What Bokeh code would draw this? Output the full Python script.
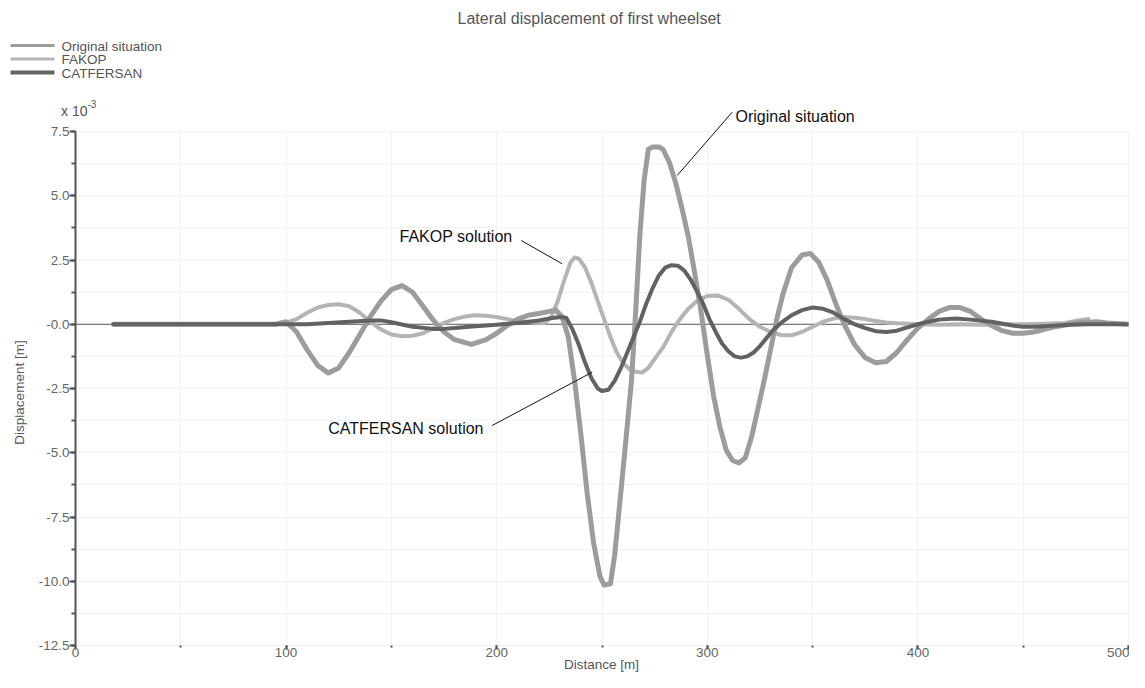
import math
from bokeh.plotting import figure
from bokeh.models import Range1d, FixedTicker, Label, Arrow, LinearAxis, Grid
from bokeh.embed import file_html
from bokeh.resources import INLINE

# ---------------- data (displacement in units of 10^-3 m) ----------------
title_text = "Lateral displacement of first wheelset"
series_names = ["Original situation", "FAKOP", "CATFERSAN"]
x_label = "Distance [m]"
y_label = "Displacement [m]"
x_ticks = [0, 100, 200, 300, 400, 500]
x_minor = [0, 50, 100, 150, 200, 250, 300, 350, 400, 450, 500]
y_ticks = [-12.5, -10.0, -7.5, -5.0, -2.5, 0.0, 2.5, 5.0, 7.5]
y_tick_labels = ["-12.5", "-10.0", "-7.5", "-5.0", "-2.5", "-0.0", "2.5", "5.0", "7.5"]
y_minor = [-12.5, -11.25, -10.0, -8.75, -7.5, -6.25, -5.0, -3.75, -2.5, -1.25, 0.0,
           1.25, 2.5, 3.75, 5.0, 6.25, 7.5]

orig_x = [18, 60, 95, 100, 105, 110, 115, 120, 125, 130, 135, 140, 145, 150, 155, 160,
          165, 170, 175, 180, 188, 195, 200, 205, 210, 215, 220, 225, 228, 231, 234, 237,
          240, 243, 246, 249, 251, 254, 256, 259, 261, 264, 266, 268, 270, 272, 274, 277,
          279, 282, 285, 288, 291, 294, 297, 300, 303, 306, 309, 312, 315, 318, 321, 324,
          327, 330, 333, 336, 340, 345, 349, 353, 357, 361, 365, 370, 375, 380, 385, 390,
          395, 400, 405, 410, 415, 420, 425, 430, 435, 440, 445, 450, 455, 460, 465, 470,
          475, 485, 490, 500]
orig_y = [0.0, 0.0, 0.0, 0.1, -0.3, -1.0, -1.6, -1.9, -1.7, -1.1, -0.4, 0.3, 0.9, 1.35, 1.5, 1.25,
          0.7, 0.15, -0.3, -0.6, -0.78, -0.6, -0.35, -0.05, 0.2, 0.35, 0.42, 0.5, 0.55, 0.3, -0.5, -2.2,
          -4.3, -6.6, -8.5, -9.8, -10.15, -10.1, -9.0, -6.5, -4.8, -2.2, 0.5, 3.5, 5.6, 6.8, 6.9, 6.9,
          6.8, 6.3, 5.5, 4.5, 3.4, 2.0, 0.5, -1.2, -2.8, -4.0, -4.9, -5.3, -5.4, -5.2, -4.4, -3.3,
          -2.2, -1.0, 0.2, 1.2, 2.2, 2.7, 2.75, 2.4, 1.7, 0.8, 0.0, -0.8, -1.3, -1.5, -1.45, -1.1,
          -0.6, -0.15, 0.2, 0.5, 0.65, 0.65, 0.5, 0.2, -0.05, -0.25, -0.35, -0.35, -0.3, -0.2, -0.1, -0.03,
          0.05, 0.1, 0.05, 0.0]

fakop_x = [18, 95, 100, 105, 110, 115, 120, 125, 130, 135, 140, 145, 150, 155, 160, 165,
           170, 175, 180, 185, 190, 195, 200, 205, 210, 215, 220, 223, 226, 229, 232, 235,
           237, 239, 242, 245, 248, 251, 254, 257, 260, 263, 266, 269, 272, 275, 279, 283,
           287, 291, 295, 300, 305, 310, 315, 320, 325, 330, 335, 340, 345, 350, 355, 360,
           365, 370, 375, 380, 385, 390, 400, 410, 420, 430, 440, 450, 460, 470, 476, 481]
fakop_y = [0.0, 0.0, 0.05, 0.2, 0.45, 0.65, 0.75, 0.78, 0.7, 0.45, 0.1, -0.2, -0.4, -0.47, -0.45, -0.35,
           -0.15, 0.05, 0.2, 0.3, 0.35, 0.33, 0.28, 0.2, 0.12, 0.1, 0.05, 0.05, 0.3, 0.9, 1.7, 2.4,
           2.6, 2.55, 2.2, 1.6, 0.9, 0.2, -0.5, -1.1, -1.5, -1.75, -1.85, -1.88, -1.7, -1.35, -0.9, -0.3,
           0.2, 0.6, 0.9, 1.1, 1.12, 0.95, 0.6, 0.2, -0.1, -0.3, -0.42, -0.43, -0.3, -0.1, 0.1, 0.22,
           0.28, 0.25, 0.2, 0.13, 0.07, 0.04, 0.0, -0.02, 0.0, -0.02, 0.0, 0.0, 0.02, 0.05, 0.15, 0.2]

catf_x = [18, 100, 110, 120, 130, 140, 145, 150, 160, 170, 175, 180, 190, 200, 210, 215,
          220, 225, 230, 233, 236, 239, 242, 245, 248, 250, 253, 256, 259, 262, 265, 268,
          271, 274, 277, 280, 283, 286, 289, 292, 295, 298, 301, 304, 307, 310, 313, 316,
          319, 322, 325, 328, 331, 335, 340, 345, 350, 355, 360, 365, 370, 375, 380, 385,
          390, 395, 400, 405, 410, 418, 425, 435, 445, 450, 455, 460, 470, 480, 490, 499]
catf_y = [0.0, 0.0, 0.0, 0.05, 0.1, 0.15, 0.15, 0.08, -0.1, -0.18, -0.18, -0.15, -0.08, -0.02, 0.05, 0.1,
          0.15, 0.22, 0.28, 0.25, -0.2, -0.8, -1.5, -2.1, -2.5, -2.6, -2.55, -2.2, -1.7, -1.1, -0.5, 0.1,
          0.8, 1.4, 1.9, 2.2, 2.3, 2.28, 2.1, 1.75, 1.3, 0.8, 0.2, -0.3, -0.75, -1.05, -1.25, -1.3,
          -1.25, -1.1, -0.85, -0.55, -0.25, 0.05, 0.35, 0.55, 0.65, 0.6, 0.45, 0.2, 0.0, -0.15, -0.27, -0.3,
          -0.25, -0.12, 0.0, 0.1, 0.18, 0.22, 0.18, 0.1, -0.05, -0.1, -0.1, -0.08, -0.03, 0.0, 0.0, 0.0]

# ---------------- layout / styles ----------------
W, H = 1129, 672
AX_LEFT, AX_RIGHT, AX_TOP, AX_BOTTOM = 75.0, 1128.0, 131.0, 645.0   # pixel box of the axes area
FONT = "Liberation Sans"
C_ORIG = "#9c9c9c"
C_FAKOP = "#b4b4b4"
C_CATF = "#626262"
C_AXIS = "#555555"
C_TEXT = "#555555"
C_GRID = "#f2f2f2"

x0, x1 = x_ticks[0], x_ticks[-1]
y0, y1 = y_ticks[0], y_ticks[-1]
kx = (AX_RIGHT - AX_LEFT) / (x1 - x0)
ky = (AX_BOTTOM - AX_TOP) / (y1 - y0)
xr = Range1d(x0 - AX_LEFT / kx, x0 + (W - AX_LEFT) / kx)
yr = Range1d(y1 - (H - AX_TOP) / ky, y1 + AX_TOP / ky)

p = figure(width=W, height=H, title=None, x_range=xr, y_range=yr,
           x_axis_type=None, y_axis_type=None, min_border=0,
           output_backend="svg", toolbar_location=None)
p.outline_line_color = None
p.background_fill_color = "white"
p.border_fill_color = "white"

xt = FixedTicker(ticks=x_ticks, minor_ticks=x_minor)
yt = FixedTicker(ticks=y_ticks, minor_ticks=y_minor)

# grid
if "cross_bounds" in Grid.properties():
    p.add_layout(Grid(dimension=0, ticker=xt, bounds=(x0, x1), cross_bounds=(y0, y1),
                      grid_line_color=C_GRID, minor_grid_line_color=C_GRID))
    p.add_layout(Grid(dimension=1, ticker=yt, bounds=(y0, y1), cross_bounds=(x0, x1),
                      grid_line_color=C_GRID, minor_grid_line_color=C_GRID))
else:
    p.segment(x0=x_minor, y0=[y0] * len(x_minor), x1=x_minor, y1=[y1] * len(x_minor),
              line_color=C_GRID, line_width=1, level="underlay")
    p.segment(x0=[x0] * len(y_minor), y0=y_minor, x1=[x1] * len(y_minor), y1=y_minor,
              line_color=C_GRID, line_width=1, level="underlay")

# axes fixed at the data box edges
xa = LinearAxis(ticker=xt, fixed_location=y0, bounds=(x0, x1))
xa.axis_line_color = None
xa.major_tick_line_color = C_AXIS
xa.minor_tick_line_color = C_AXIS
xa.major_tick_line_width = 2
xa.minor_tick_line_width = 2
xa.major_tick_out = 4
xa.major_tick_in = 0
xa.minor_tick_out = 2
xa.minor_tick_in = 0
xa.major_label_text_font = FONT
xa.major_label_text_font_size = "13.5px"
xa.major_label_text_color = "#666666"
xa.major_label_standoff = -2
p.add_layout(xa, "below")

ya = LinearAxis(ticker=yt, fixed_location=x0, bounds=(y0, y1))
ya.major_label_overrides = {t: s for t, s in zip(y_ticks, y_tick_labels)}
ya.axis_line_color = C_AXIS
ya.axis_line_width = 2
ya.major_tick_line_color = C_AXIS
ya.minor_tick_line_color = C_AXIS
ya.major_tick_line_width = 2
ya.minor_tick_line_width = 2
ya.major_tick_out = 6
ya.major_tick_in = 0
ya.minor_tick_out = 4
ya.minor_tick_in = 0
ya.major_label_text_font = FONT
ya.major_label_text_font_size = "13.5px"
ya.major_label_text_color = "#666666"
ya.major_label_standoff = 0
p.add_layout(ya, "left")

# zero reference line
p.segment(x0=[x0], y0=[0.0], x1=[x1], y1=[0.0], line_color=C_AXIS, line_width=1)

# series
p.line(fakop_x, fakop_y, line_color=C_FAKOP, line_width=4, line_join="round", line_cap="round")
p.line(orig_x, orig_y, line_color=C_ORIG, line_width=5, line_join="round", line_cap="round")
p.line(catf_x, catf_y, line_color=C_CATF, line_width=4, line_join="round", line_cap="round")


def lbl(px, py, text, size, color, align="left", baseline="alphabetic", angle=0.0):
    # px, py: pixel position from the top-left corner of the canvas
    p.add_layout(Label(x=px, y=H - py, x_units="screen", y_units="screen", text=text,
                       text_font=FONT, text_font_size=size, text_color=color,
                       text_align=align, text_baseline=baseline, angle=angle))


def seg(px0, py0, px1, py1, color, width):
    p.add_layout(Arrow(end=None, start=None, x_start=px0, y_start=H - py0,
                       x_end=px1, y_end=H - py1,
                       start_units="screen", end_units="screen",
                       line_color=color, line_width=width))

# title
lbl(457, 18, title_text, "16px", C_TEXT)

# legend
leg_colors = [C_ORIG, C_FAKOP, C_CATF]
leg_widths = [3, 3, 4]
leg_line_y = [45, 58.5, 72]
leg_text_y = [45.5, 59, 72.5]
for name, c, w, ly, ty in zip(series_names, leg_colors, leg_widths, leg_line_y, leg_text_y):
    seg(10, ly, 54, ly, c, w)
    lbl(61, ty, name, "13.5px", C_TEXT)

# exponent marker
lbl(87, 110, "x 10", "14px", C_TEXT, align="right")
lbl(87, 103, "-3", "10px", C_TEXT)

# axis titles
lbl(19, 392, y_label, "13.5px", C_TEXT, align="center", baseline="middle", angle=math.pi / 2)
lbl(601, 664, x_label, "13.5px", C_TEXT, align="center")

# annotations with leader lines
lbl(735, 116, "Original situation", "16px", "#111111")
seg(731.7, 111.7, 676.7, 175, "#111111", 1)
lbl(512, 235.5, "FAKOP solution", "16px", "#111111", align="right")
seg(520.7, 240, 561.7, 263.3, "#111111", 1)
lbl(483, 428, "CATFERSAN solution", "16px", "#111111", align="right")
seg(491.7, 425, 591.7, 371.7, "#111111", 1)

open("out.html", "w").write(file_html(p, INLINE))
